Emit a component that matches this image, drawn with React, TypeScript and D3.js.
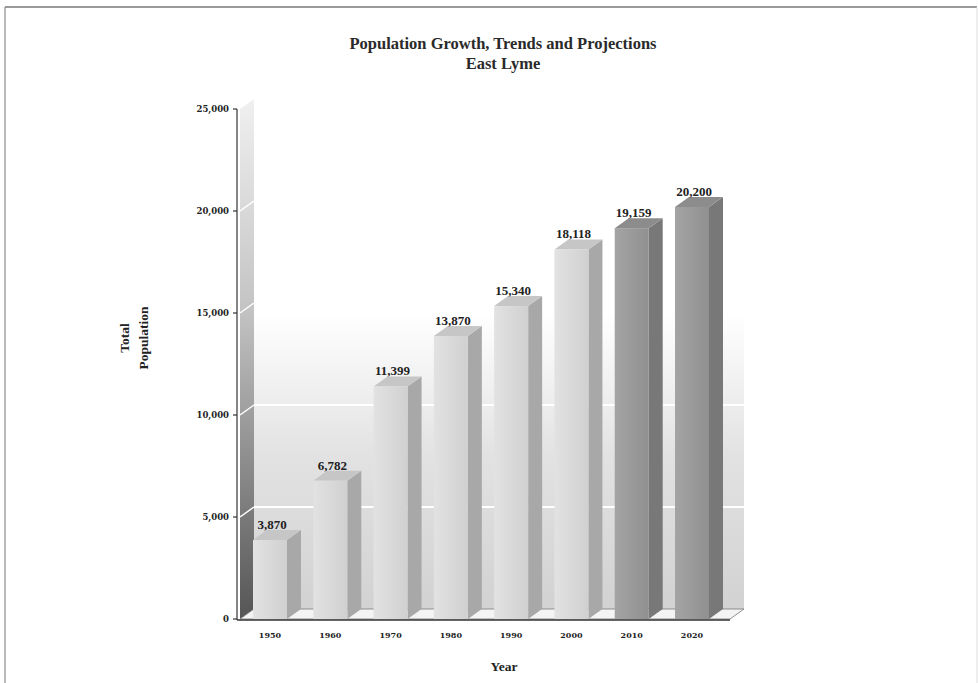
import React from "react";
import * as d3 from "d3";

const years = ["1950", "1960", "1970", "1980", "1990", "2000", "2010", "2020"];
const population = [3870, 6782, 11399, 13870, 15340, 18118, 19159, 20200];
const projected = [false, false, false, false, false, false, true, true];
const yTicks = [0, 5000, 10000, 15000, 20000, 25000];

const W = 978;
const H = 683;
const DX = 14;
const DY = -10;
const FONT = "'Liberation Serif', 'DejaVu Serif', serif";
const TICK_FONT = "'DejaVu Serif', serif";

export default function App() {
  const y = d3.scaleLinear().domain([0, 25000]).range([619, 109]);
  const x = d3.scalePoint<string>().domain(years).range([270, 692]);
  const fmt = d3.format(",");
  const halfW = 17;
  const axisX = 237;
  const wallX = 240;
  const floorRight = 730;

  return (
    <svg width={W} height={H} style={{ position: "absolute", left: 0, top: 0, display: "block", background: "#fff" }}>
      <defs>
        <linearGradient id="backWall" x1="0" y1="0" x2="0" y2="1">
          <stop offset="0%" stopColor="#ffffff" />
          <stop offset="42%" stopColor="#ffffff" />
          <stop offset="70%" stopColor="#e2e2e2" />
          <stop offset="100%" stopColor="#d2d2d2" />
        </linearGradient>
        <linearGradient id="leftWall" x1="0" y1="0" x2="0" y2="1">
          <stop offset="0%" stopColor="#f0f0f0" />
          <stop offset="40%" stopColor="#c4c4c4" />
          <stop offset="100%" stopColor="#555555" />
        </linearGradient>
        <linearGradient id="frontLight" x1="0" y1="0" x2="1" y2="0">
          <stop offset="0%" stopColor="#e2e2e2" />
          <stop offset="100%" stopColor="#d0d0d0" />
        </linearGradient>
        <linearGradient id="frontDark" x1="0" y1="0" x2="1" y2="0">
          <stop offset="0%" stopColor="#a4a4a4" />
          <stop offset="100%" stopColor="#909090" />
        </linearGradient>
      </defs>

      {/* frame */}
      <line x1={5} y1={7} x2={977} y2={7} stroke="#9a9a9a" strokeWidth={2} />
      <line x1={5} y1={7} x2={5} y2={H} stroke="#8a8a8a" strokeWidth={1.2} />
      <line x1={977} y1={7} x2={977} y2={H} stroke="#dddddd" strokeWidth={1} />

      {/* title */}
      <text x={503} y={49} textAnchor="middle" fontFamily={FONT} fontWeight="bold" fontSize={16.5} fill="#2a2a2a">
        Population Growth, Trends and Projections
      </text>
      <text x={503} y={69} textAnchor="middle" fontFamily={FONT} fontWeight="bold" fontSize={16.5} fill="#2a2a2a">
        East Lyme
      </text>

      {/* back wall */}
      <rect x={wallX + DX} y={y(25000) + DY} width={floorRight - wallX} height={y(0) - y(25000)} fill="url(#backWall)" />
      {yTicks.filter(t => t > 0 && t < 25000).map(t => (
        <line key={"bg" + t} x1={wallX + DX} x2={floorRight + DX} y1={y(t) + DY} y2={y(t) + DY} stroke="#ffffff" strokeWidth={2} />
      ))}

      {/* left wall */}
      <polygon
        points={`${wallX},${y(0)} ${wallX + DX},${y(0) + DY} ${wallX + DX},${y(25000) + DY} ${wallX},${y(25000)}`}
        fill="url(#leftWall)"
      />
      {yTicks.filter(t => t > 0 && t < 25000).map(t => (
        <line key={"lw" + t} x1={wallX} y1={y(t)} x2={wallX + DX} y2={y(t) + DY} stroke="#ffffff" strokeWidth={1.5} />
      ))}

      {/* floor */}
      <polygon
        points={`${wallX},${y(0)} ${floorRight},${y(0)} ${floorRight + DX},${y(0) + DY} ${wallX + DX},${y(0) + DY}`}
        fill="#f4f4f4"
        stroke="#777"
        strokeWidth={0.8}
      />

      {/* bars */}
      {years.map((yr, i) => {
        const cx = x(yr)!;
        const v = population[i];
        const top = y(v);
        const base = y(0);
        const x0 = cx - halfW;
        const x1 = cx + halfW;
        const dark = projected[i];
        return (
          <g key={yr}>
            <polygon
              points={`${x1},${base} ${x1 + DX},${base + DY} ${x1 + DX},${top + DY} ${x1},${top}`}
              fill={dark ? "#787878" : "#a8a8a8"}
            />
            <polygon
              points={`${x0},${top} ${x1},${top} ${x1 + DX},${top + DY} ${x0 + DX},${top + DY}`}
              fill={dark ? "#8c8c8c" : "#c6c6c6"}
            />
            <rect x={x0} y={top} width={x1 - x0} height={base - top} fill={dark ? "url(#frontDark)" : "url(#frontLight)"} />
            <text x={cx + 2} y={top - 11} textAnchor="middle" fontFamily={FONT} fontWeight="bold" fontSize={13} fill="#222">
              {fmt(v)}
            </text>
          </g>
        );
      })}

      {/* axes */}
      <line x1={axisX} y1={y(25000)} x2={axisX} y2={y(0) + 1} stroke="#333" strokeWidth={1.2} />
      <line x1={axisX} y1={y(0) + 1} x2={floorRight} y2={y(0) + 1} stroke="#333" strokeWidth={1.5} />
      {yTicks.map(t => (
        <g key={"t" + t}>
          <line x1={axisX - 4} x2={axisX} y1={y(t)} y2={y(t)} stroke="#333" strokeWidth={1.2} />
          <text x={axisX - 8} y={y(t)} dy="0.35em" textAnchor="end" fontFamily={TICK_FONT} fontWeight="bold" fontSize={8.5} fill="#222">
            {fmt(t)}
          </text>
        </g>
      ))}
      {years.map(yr => (
        <text key={"xl" + yr} x={x(yr)!} y={638} textAnchor="middle" fontFamily={TICK_FONT} fontWeight="bold" fontSize={8} fill="#222">
          {yr}
        </text>
      ))}

      {/* axis titles */}
      <text transform="translate(129,338) rotate(-90)" textAnchor="middle" fontFamily={FONT} fontWeight="bold" fontSize={13.5} fill="#222">
        Total
      </text>
      <text transform="translate(148,338) rotate(-90)" textAnchor="middle" fontFamily={FONT} fontWeight="bold" fontSize={13.5} fill="#222">
        Population
      </text>
      <text x={504} y={671} textAnchor="middle" fontFamily={FONT} fontWeight="bold" fontSize={13.5} fill="#222">
        Year
      </text>
    </svg>
  );
}
